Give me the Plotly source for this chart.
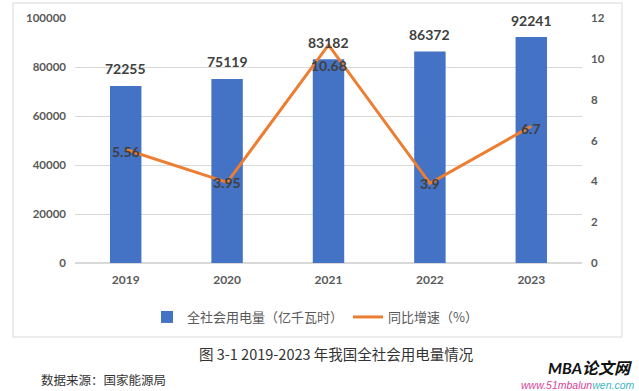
import plotly.graph_objects as go

years = ["2019", "2020", "2021", "2022", "2023"]
consumption = [72255, 75119, 83182, 86372, 92241]
growth = [5.56, 3.95, 10.68, 3.9, 6.7]
growth_labels = ["5.56", "3.95", "10.68", "3.9", "6.7"]
growth_label_shift = [-2, 0, -21, 0, -2]

W, H = 639, 391
L, R, T, B = 75, 582, 18, 263

def px_x(x):
    return (x - L) / (R - L)

def px_y(y):
    return (B - y) / (B - T)

NUM_FONT = "Lato, 'Noto Sans CJK SC', sans-serif"
CJK_FONT = "'Noto Sans CJK SC', sans-serif"

fig = go.Figure()
fig.add_trace(go.Bar(
    x=years, y=consumption, name="全社会用电量（亿千瓦时）",
    marker=dict(color="#4472C4", line=dict(width=0)),
    width=0.31, yaxis="y",
))
fig.add_trace(go.Scatter(
    x=years, y=growth, name="同比增速（%）", yaxis="y2",
    mode="lines", line=dict(color="#ED7D31", width=3),
))

for i, v in enumerate(consumption):
    fig.add_annotation(x=i, y=v, xref="x", yref="y", text=str(v), showarrow=False,
                       yshift=17, font=dict(family=NUM_FONT, size=14, color="#404040", weight="bold"))
for i, (g, lab, sh) in enumerate(zip(growth, growth_labels, growth_label_shift)):
    fig.add_annotation(x=i, y=g, xref="x", yref="y2", text=lab, showarrow=False,
                       yshift=sh, font=dict(family=NUM_FONT, size=14, color="#404040", weight="bold"))

# chart border
fig.add_shape(type="rect", xref="paper", yref="paper",
              x0=px_x(13), x1=px_x(622), y0=px_y(337), y1=px_y(3),
              line=dict(color="#D9D9D9", width=1), fillcolor="rgba(0,0,0,0)", layer="below")

fig.add_annotation(xref="paper", yref="paper", x=px_x(336), y=px_y(353), text="图 3-1 2019-2023 年我国全社会用电量情况",
                   showarrow=False, xanchor="center", yanchor="middle",
                   font=dict(family=CJK_FONT, size=14.5, color="#333333"))
fig.add_annotation(xref="paper", yref="paper", x=px_x(39), y=px_y(379), text="数据来源：国家能源局",
                   showarrow=False, xanchor="left", yanchor="middle",
                   font=dict(family=CJK_FONT, size=12.5, color="#333333"))
fig.add_annotation(xref="paper", yref="paper", x=px_x(634), y=px_y(367), text="<b><i>MBA论文网</i></b>",
                   showarrow=False, xanchor="right", yanchor="middle",
                   font=dict(family=NUM_FONT, size=16, color="#111111"))
fig.add_annotation(xref="paper", yref="paper", x=px_x(636), y=px_y(385),
                   text="<i><span style='color:#D9449A'>www.51mbalun</span><span style='color:#3BB5C8'>wen.com</span></i>",
                   showarrow=False, xanchor="right", yanchor="middle",
                   font=dict(family="Liberation Sans, sans-serif", size=10.5))

fig.update_layout(
    width=W, height=H,
    margin=dict(l=L, r=W - R, t=T, b=H - B, pad=0, autoexpand=False),
    paper_bgcolor="white", plot_bgcolor="white",
    bargap=0.69, showlegend=True,
    legend=dict(orientation="h", x=px_x(315), y=px_y(317), xanchor="center", yanchor="middle",
                font=dict(family=CJK_FONT, size=13, color="#595959"), bgcolor="rgba(0,0,0,0)",
                itemwidth=30, traceorder="normal"),
    xaxis=dict(type="category", range=[-0.5, 4.5], showgrid=False, showline=False, zeroline=False,
               tickfont=dict(family=NUM_FONT, size=12, color="#595959", weight="bold"),
               ticks="", ticklabelstandoff=8),
    yaxis=dict(range=[0, 100000], dtick=20000, showgrid=True, gridcolor="#D9D9D9", gridwidth=1,
               zeroline=True, zerolinecolor="#D9D9D9", showline=False, ticks="",
               tickfont=dict(family=NUM_FONT, size=11.5, color="#595959", weight="bold"),
               ticklabelstandoff=8, tickformat="d"),
    yaxis2=dict(range=[0, 12], dtick=2, overlaying="y", side="right", showgrid=False,
                zeroline=False, showline=False, ticks="",
                tickfont=dict(family=NUM_FONT, size=11.5, color="#595959", weight="bold"),
                ticklabelstandoff=8),
)

fig.write_html("out.html", config={"displayModeBar": False},
               post_script="document.body.style.margin='0';document.body.style.overflow='hidden';")
